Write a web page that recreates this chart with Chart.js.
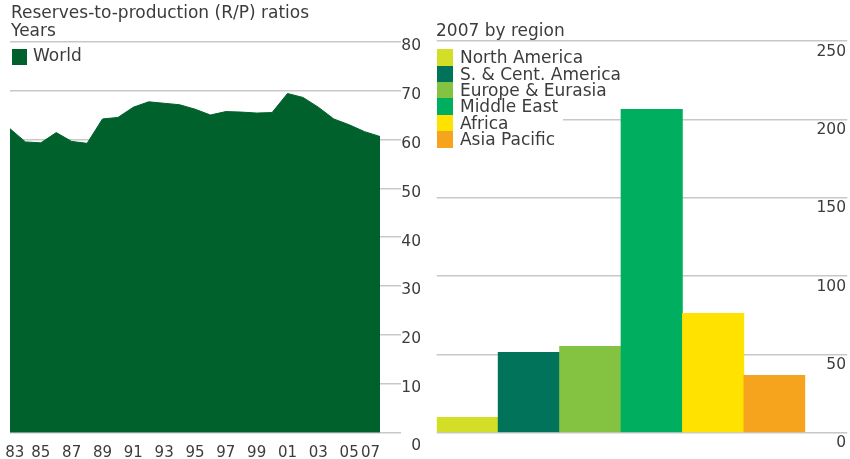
<!DOCTYPE html>
<html>
<head>
<meta charset="utf-8">
<script src="https://cdn.jsdelivr.net/npm/chart.js@4/dist/chart.umd.min.js"></script>
<style>
html,body{margin:0;padding:0;background:#fff;}
body{width:850px;height:459px;position:relative;overflow:hidden;font-family:"DejaVu Sans",sans-serif;color:#3c3c3c;}
canvas{position:absolute;top:0;}
#cL{left:0;}
#cR{left:430px;}
.t{position:absolute;font-size:17px;line-height:18px;white-space:nowrap;}
#legR{position:absolute;left:436.7px;top:49.3px;width:126.3px;background:#fff;}
.row{height:16.4px;display:flex;align-items:center;white-space:nowrap;}
.sw{width:16.6px;height:16.4px;flex:none;}
.row span{margin-left:6.7px;font-size:17px;line-height:16.4px;}
</style>
</head>
<body>
<canvas id="cL" width="430" height="459"></canvas>
<canvas id="cR" width="420" height="459"></canvas>

<div class="t" style="left:11px;top:3px;">Reserves-to-production (R/P) ratios</div>
<div class="t" style="left:11px;top:21px;">Years</div>
<div class="t" style="left:436px;top:21px;">2007 by region</div>

<div style="position:absolute;left:11.7px;top:49px;width:15px;height:16px;" id="swW"></div>
<div class="t" style="left:33px;top:46px;">World</div>

<div id="legR"></div>

<script>
// ---- data ----
const years = [1983,1984,1985,1986,1987,1988,1989,1990,1991,1992,1993,1994,1995,
               1996,1997,1998,1999,2000,2001,2002,2003,2004,2005,2006,2007];
const worldRP = [62.2,59.5,59.3,61.4,59.6,59.2,64.2,64.5,66.6,67.7,67.4,67.1,66.2,
                 65.0,65.7,65.6,65.4,65.5,69.4,68.6,66.6,64.2,63.0,61.6,60.6];
const yearLabels = ['83','84','85','86','87','88','89','90','91','92','93','94','95',
                    '96','97','98','99','00','01','02','03','04','05','06','07'];
const regions = ['North America','S. & Cent. America','Europe & Eurasia','Middle East','Africa','Asia Pacific'];
const regionRP = [9.8,51.3,55.2,206.5,76.2,36.7];

// ---- styles ----
const worldColor = '#00612d';
const regionColors = ['#d3de27','#00735a','#84c341','#00ae5f','#ffe200','#f6a31e'];
const gridColor = '#c8c8c8';
const txt = '#3c3c3c';

Chart.defaults.font.family = "'DejaVu Sans', sans-serif";
Chart.defaults.color = txt;

document.getElementById('swW').style.background = worldColor;
const leg = document.getElementById('legR');
regions.forEach((r,i)=>{
  const row = document.createElement('div'); row.className='row';
  const sw = document.createElement('div'); sw.className='sw'; sw.style.background=regionColors[i];
  const s = document.createElement('span'); s.textContent = r;
  row.appendChild(sw); row.appendChild(s); leg.appendChild(row);
});

// ---- left: world area ----
new Chart(document.getElementById('cL'), {
  type: 'line',
  data: {
    labels: yearLabels,
    datasets: [{
      data: worldRP, fill: 'origin', backgroundColor: worldColor, borderColor: worldColor,
      borderWidth: 1, pointRadius: 0, tension: 0
    }]
  },
  options: {
    responsive: false, animation: false, devicePixelRatio: 1,
    layout: {padding: {left: 10, top: 41.7, right: 9, bottom: 0}},
    plugins: {legend: {display: false}, tooltip: {enabled: false}},
    scales: {
      x: {
        type: 'category', offset: false,
        grid: {display: false}, border: {display: false},
        ticks: {
          autoSkip: false, maxRotation: 0, minRotation: 0, padding: 3.5,
          font: {size: 15},
          callback: function(v, i) {
            if (years[i] % 2 === 0) return '';
            const l = yearLabels[i];
            if (i === 0) return '  ' + l;
            if (i === years.length - 1) return l + '    ';
            return l;
          }
        },
        afterFit: function(s) { s.height = 26.3; s.paddingLeft = 0; s.paddingRight = 0; }
      },
      y: {
        position: 'right', min: 0, max: 80,
        grid: {color: gridColor, lineWidth: 1.5, tickLength: 21},
        border: {display: false},
        ticks: {
          stepSize: 10, crossAlign: 'far', padding: 0,
          font: {size: 15.5, lineHeight: '8.7px'},
          callback: function(v) { return v === 0 ? ['', '', '', '0'] : ['', String(v)]; }
        },
        afterFit: function(s) { s.width = 41; s.paddingTop = 0; s.paddingBottom = 0; }
      }
    }
  }
});

// ---- right: bars by region ----
new Chart(document.getElementById('cR'), {
  type: 'bar',
  data: {
    labels: regions,
    datasets: [{
      data: regionRP, backgroundColor: regionColors, borderWidth: 0,
      barPercentage: 1, categoryPercentage: 1
    }]
  },
  options: {
    responsive: false, animation: false, devicePixelRatio: 1,
    layout: {padding: {left: 6.7, top: 41.1, right: 4, bottom: 26.3}},
    plugins: {legend: {display: false}, tooltip: {enabled: false}},
    scales: {
      x: {display: false},
      y: {
        position: 'right', min: 0, max: 250,
        grid: {color: gridColor, lineWidth: 1.5, tickLength: 42},
        border: {display: false},
        ticks: {
          stepSize: 50, crossAlign: 'far', padding: 0,
          font: {size: 15.5, lineHeight: '21px'},
          callback: function(v) { return ['', String(v)]; }
        },
        afterFit: function(s) { s.width = 40.7; s.paddingTop = 0; s.paddingBottom = 0; }
      }
    }
  }
});
</script>
</body>
</html>
